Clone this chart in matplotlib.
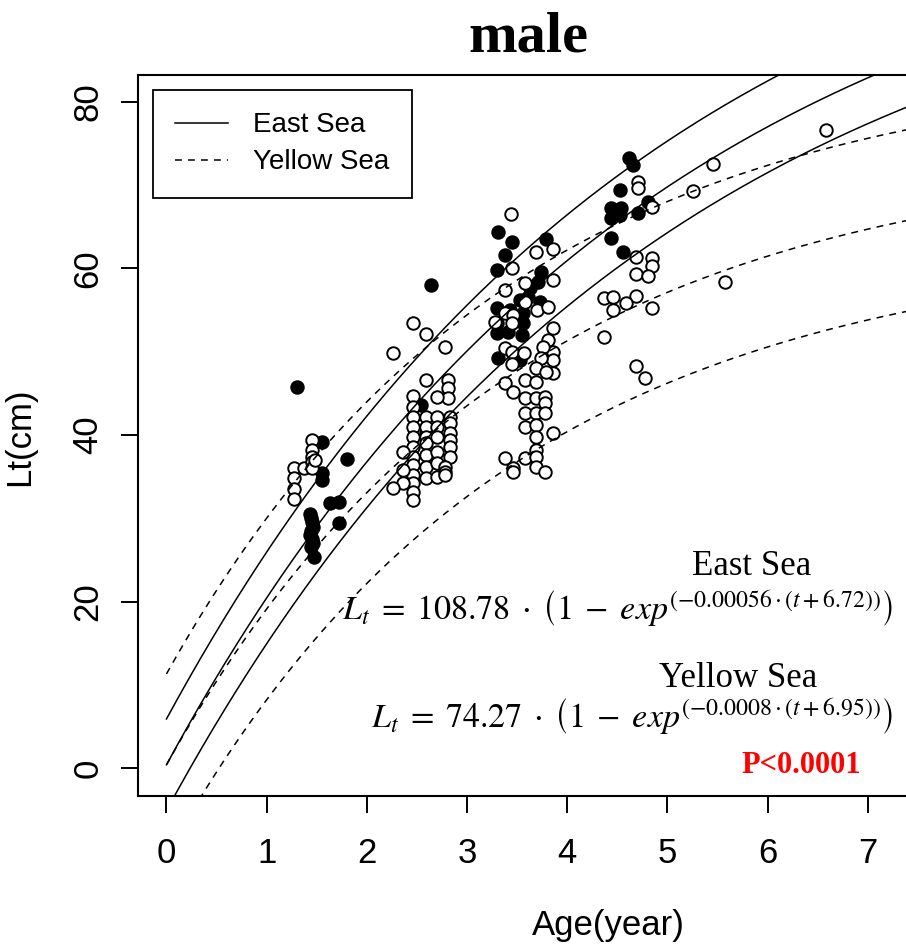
import numpy as np
import matplotlib
matplotlib.use('Agg')
import matplotlib.pyplot as plt
from matplotlib.lines import Line2D

# growth curve parameters as printed on the panel (t in days)
east_linf, east_k, east_t0 = 108.78, 0.00056, 6.72
yellow_linf, yellow_k, yellow_t0 = 74.27, 0.0008, 6.95
# half width of the band drawn around each curve (cm)
east_band = 5.5
yellow_band = 10.9

# East Sea fish (filled circles): age (year), length (cm)
east_age = [1.30, 1.55, 1.80, 1.55, 1.55, 1.63, 1.72, 1.72, 1.43, 1.44, 1.45, 1.46, 1.44, 1.43,
            1.45, 1.46, 1.44, 1.47,
            2.64, 2.54, 2.59,
            3.31, 3.45, 3.79, 3.38, 3.30, 3.74, 3.71, 3.63, 3.61, 3.53, 3.73, 3.30, 3.43, 3.56,
            3.30, 3.56, 3.30, 3.41, 3.55, 3.31, 3.53,
            4.62, 4.66, 4.53, 4.81, 4.44, 4.54, 4.44, 4.53, 4.71, 4.44, 4.56]
east_len = [45.8, 39.2, 37.1, 35.4, 34.6, 31.8, 32.0, 29.4, 30.5, 30.0, 29.5, 29.0, 28.5, 28.0,
            27.5, 27.0, 26.6, 25.3,
            58.0, 43.6, 40.2,
            64.4, 63.2, 63.5, 61.6, 59.8, 59.6, 58.4, 57.6, 56.6, 56.2, 56.0, 55.2, 55.0, 54.6,
            53.4, 53.4, 52.2, 52.4, 52.0, 49.2, 49.0,
            73.2, 72.4, 69.4, 68.0, 67.2, 67.2, 66.0, 66.4, 66.6, 63.6, 62.0]

# Yellow Sea fish (open circles)
yellow_age = [1.27, 1.27, 1.27, 1.27, 1.37, 1.45, 1.45, 1.45, 1.45, 1.45, 1.48,
              2.46, 2.59, 2.26, 2.78, 2.59, 2.81, 2.81, 2.81, 2.46, 2.70,
              2.46, 2.46, 2.46, 2.46, 2.46, 2.46, 2.46, 2.46, 2.46, 2.46, 2.46,
              2.59, 2.59, 2.59, 2.59, 2.59, 2.59, 2.59,
              2.70, 2.70, 2.70, 2.70, 2.70, 2.70,
              2.83, 2.83, 2.83, 2.83, 2.83, 2.83,
              2.78, 2.78, 2.78, 2.36, 2.36, 2.36, 2.26,
              3.44, 3.69, 3.86, 3.45, 3.58, 3.86, 3.38, 3.58, 3.70, 3.81, 3.38, 3.46, 3.28, 3.45,
              3.38, 3.45, 3.57, 3.45, 3.38, 3.46, 3.58, 3.86, 3.81, 3.86, 3.86, 3.86, 3.76, 3.74,
              3.69, 3.79, 3.69, 3.58, 3.69, 3.78, 3.78, 3.58, 3.69, 3.78, 3.58, 3.69, 3.69, 3.86,
              3.69, 3.58, 3.38, 3.69, 3.46, 3.46, 3.69, 3.78,
              4.71, 4.71, 4.85, 4.69, 4.85, 4.85, 4.69, 4.81, 4.37, 4.46, 4.69, 4.59, 4.46, 4.85,
              4.37, 4.69, 4.78,
              5.25, 5.45, 5.57, 6.58]
yellow_len = [36.0, 34.8, 33.5, 32.3, 36.0, 39.4, 38.2, 37.4, 36.8, 36.0, 37.0,
              53.4, 52.1, 49.8, 50.6, 46.6, 46.6, 45.6, 44.4, 44.7, 44.5,
              43.4, 42.2, 41.0, 39.8, 38.6, 37.4, 36.4, 35.2, 34.2, 33.2, 32.2,
              42.2, 41.0, 39.8, 39.0, 37.6, 36.2, 34.8,
              42.2, 41.0, 39.8, 38.0, 36.6, 35.0,
              42.2, 41.4, 40.2, 39.4, 38.6, 37.4,
              36.2, 35.6, 35.2, 38.0, 35.8, 34.2, 33.6,
              66.5, 62.0, 62.3, 60.0, 58.2, 58.6, 57.4, 56.0, 55.0, 55.3, 54.6, 54.4, 53.6, 53.4,
              50.4, 50.0, 49.8, 48.5, 46.2, 45.1, 46.6, 52.8, 51.4, 50.0, 49.0, 47.4, 50.6, 49.2,
              48.0, 47.6, 46.4, 44.4, 44.4, 44.6, 43.8, 42.6, 42.6, 42.6, 41.0, 41.2, 39.8, 40.2,
              38.2, 37.2, 37.2, 37.4, 36.0, 35.6, 36.2, 35.6,
              70.4, 69.6, 67.4, 61.4, 61.2, 60.3, 59.3, 59.1, 56.4, 56.6, 56.7, 55.8, 55.0, 55.2,
              51.8, 48.3, 46.8,
              69.3, 72.5, 58.4, 76.6]

xticks = [0, 1, 2, 3, 4, 5, 6, 7]
yticks = [0, 20, 40, 60, 80]

plt.rcParams['mathtext.fontset'] = 'stix'
sans = 'Liberation Sans'
serif = 'Liberation Serif'

W, H = 906, 947
fig = plt.figure(figsize=(W / 100, H / 100), dpi=100)
ax = fig.add_axes([138 / W, 1 - 795.7 / H, (917 - 138) / W, (795.7 - 75) / H])

# points
ax.plot(east_age, east_len, 'o', ms=9.0, mfc='black', mec='black', mew=1.4, zorder=2)
ax.plot(yellow_age, yellow_len, 'o', ms=9.0, mfc='white', mec='black', mew=1.4, zorder=3)

# growth curves with bands
age = np.linspace(0, 7.7, 400)
days = age * 365
east_mid = east_linf * (1 - np.exp(-east_k * (days + east_t0)))
yellow_mid = yellow_linf * (1 - np.exp(-yellow_k * (days + yellow_t0)))
for off in (-east_band, 0, east_band):
    ax.plot(age, east_mid + off, color='black', lw=1.1, zorder=4)
for off in (-yellow_band, 0, yellow_band):
    ax.plot(age, yellow_mid + off, color='black', lw=1.1, ls=(0, (4.5, 4)), zorder=4)

ax.set_xlim(-0.284, 7.49)
ax.set_ylim(-3.3, 83.2)
ax.set_xticks(xticks)
ax.set_yticks(yticks)
for s in ax.spines.values():
    s.set_linewidth(1.5)
ax.tick_params(direction='out', length=12, width=1.4, labelsize=25)
ax.tick_params(axis='x', pad=18)
ax.tick_params(axis='y', pad=12)
for lab in ax.get_xticklabels() + ax.get_yticklabels():
    lab.set_fontfamily(sans)
for lab in ax.get_yticklabels():
    lab.set_rotation(90)
    lab.set_va('center')

# legend
handles = [Line2D([], [], color='black', lw=1.1),
           Line2D([], [], color='black', lw=1.1, ls=(0, (4.5, 4)))]
leg = ax.legend(handles, ['East Sea', 'Yellow Sea'], loc='upper left',
                bbox_to_anchor=(0.0193, 0.979), borderaxespad=0, fancybox=False,
                edgecolor='black', framealpha=1, handlelength=1.9, handletextpad=0.9,
                labelspacing=0.4, borderpad=0.8,
                prop={'family': sans, 'size': 20})
leg.get_frame().set_linewidth(1.3)

# labels and title
fig.text(528 / W, 1 - 52 / H, 'male', ha='center', va='baseline',
         family=serif, weight='bold', size=42)
fig.text(608 / W, 1 - 925 / H, 'Age(year)', ha='center', va='center', family=sans, size=25)
fig.text(20 / W, 1 - 437 / H, 'Lt(cm)', ha='center', va='center', rotation=90,
         family=sans, size=25)

# fitted equations
fig.text(752 / W, 1 - 575 / H, 'East Sea', ha='center', va='baseline', family=serif, size=25)
fig.text(893 / W, 1 - 620 / H,
         r'$L_t\;=\;108.78\;\cdot\;\left(1\;-\;exp^{\left(-0.00056\cdot(t+6.72)\right)}\right)$',
         ha='right', va='baseline', size=24.5)
fig.text(738 / W, 1 - 687 / H, 'Yellow Sea', ha='center', va='baseline', family=serif, size=25)
fig.text(893 / W, 1 - 728 / H,
         r'$L_t\;=\;74.27\;\cdot\;\left(1\;-\;exp^{\left(-0.0008\cdot(t+6.95)\right)}\right)$',
         ha='right', va='baseline', size=24.5)
fig.text(801 / W, 1 - 773 / H, 'P<0.0001', ha='center', va='baseline', family=serif,
         weight='bold', size=22, color='#ff0000')

fig.savefig('out.png', dpi=100)
